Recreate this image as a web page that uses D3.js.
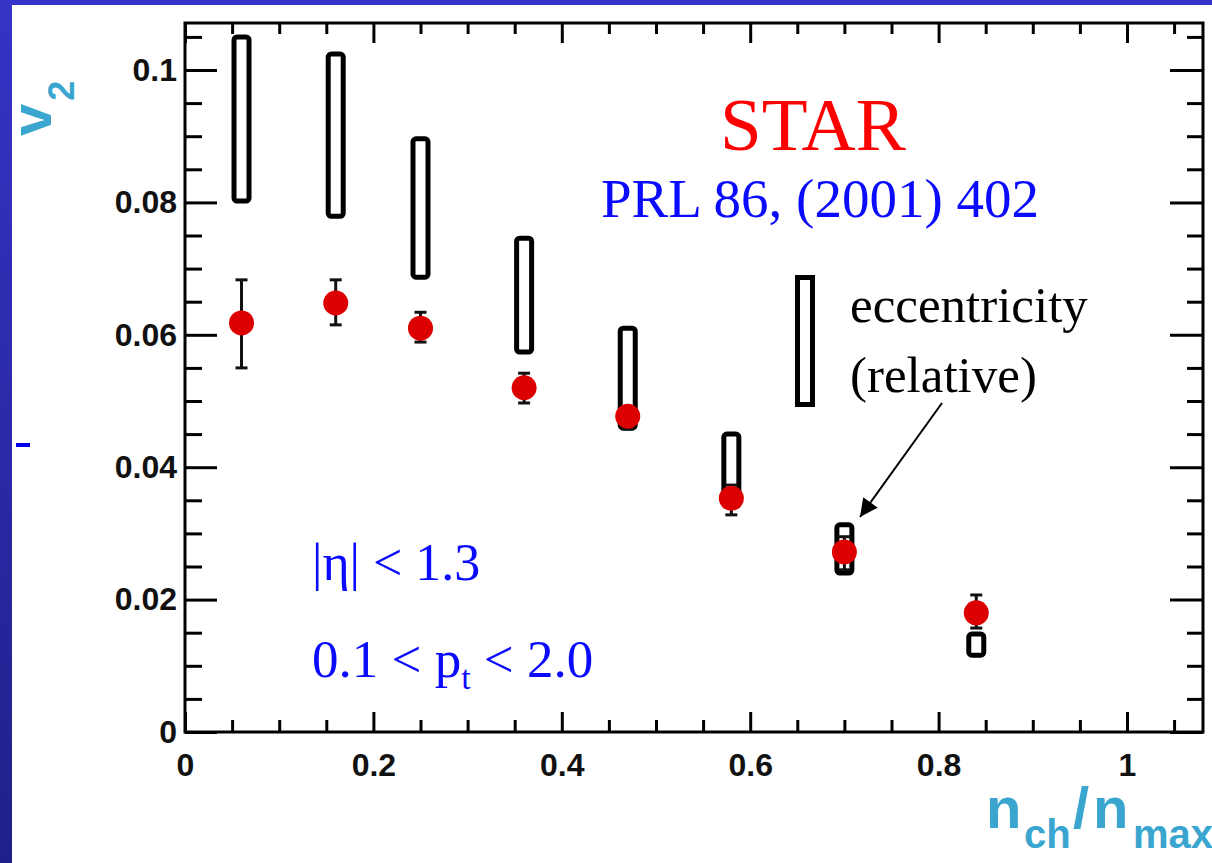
<!DOCTYPE html>
<html>
<head>
<meta charset="utf-8">
<script src="https://cdn.jsdelivr.net/npm/d3@7"></script>
<style>
  body { margin: 0; background: #fff; }
  svg { display: block; }
</style>
</head>
<body>
<svg width="1212" height="863"></svg>
<script>
// Data: v2 vs centrality (STAR, PRL 86 (2001) 402)
var nch = [0.06, 0.16, 0.25, 0.36, 0.47, 0.58, 0.70, 0.84];
var v2 = [0.0618, 0.0648, 0.0610, 0.0520, 0.0477, 0.0353, 0.0272, 0.0180];
var v2_hi = [0.0683, 0.0683, 0.0634, 0.0542, 0.0489, 0.0373, 0.0295, 0.0207];
var v2_lo = [0.0550, 0.0615, 0.0589, 0.0497, 0.0458, 0.0328, 0.0245, 0.0157];
// eccentricity (relative) boxes
var ecc_hi = [0.1050, 0.1024, 0.0896, 0.0746, 0.0610, 0.0450, 0.0313, 0.0148];
var ecc_lo = [0.0802, 0.0779, 0.0687, 0.0574, 0.0459, 0.0350, 0.0240, 0.0116];

var x_major = [0, 0.2, 0.4, 0.6, 0.8, 1];
var y_major = [0, 0.02, 0.04, 0.06, 0.08, 0.1];

var points = nch.map(function(d, i) {
  return {x: d, y: v2[i], hi: v2_hi[i], lo: v2_lo[i], ehi: ecc_hi[i], elo: ecc_lo[i]};
});

var svg = d3.select('svg');
var p_left = 185, p_right = 1203, p_top = 23, p_bottom = 732;

var x = d3.scaleLinear().domain([0, 1.0807]).range([p_left, p_right]);
var y = d3.scaleLinear().domain([0, 0.1071]).range([p_bottom, p_top]);

var x_minor = d3.range(0, 1.08, 0.05).filter(function(v) { return Math.abs(v * 5 - Math.round(v * 5)) > 1e-6; });
var y_minor = d3.range(0, 0.107, 0.005).filter(function(v) { return Math.abs(v * 50 - Math.round(v * 50)) > 1e-6; });

// background strips
var defs = svg.append('defs');
var grad = defs.append('linearGradient').attr('id', 'leftgrad')
  .attr('x1', 0).attr('y1', 0).attr('x2', 0).attr('y2', 1);
grad.append('stop').attr('offset', '0%').attr('stop-color', '#3434c6');
grad.append('stop').attr('offset', '100%').attr('stop-color', '#20208a');
svg.append('rect').attr('x', 0).attr('y', 0).attr('width', 1212).attr('height', 5).attr('fill', '#3434c8');
svg.append('rect').attr('x', 0).attr('y', 0).attr('width', 12).attr('height', 863).attr('fill', 'url(#leftgrad)');
svg.append('line').attr('x1', 16).attr('x2', 30).attr('y1', 445).attr('y2', 445)
  .attr('stroke', '#0000ee').attr('stroke-width', 4);

// axes
function style_axis(g) {
  g.select('.domain').remove();
  g.selectAll('line').attr('stroke', '#000').attr('stroke-width', 3);
  g.selectAll('text').attr('fill', '#111')
    .attr('font-family', 'Liberation Sans, Arial, sans-serif')
    .attr('font-weight', 'bold').attr('font-size', '32px');
}
var fmt = function(d) { return d === 0 ? '0' : String(+d.toFixed(2)); };

svg.append('g').attr('transform', 'translate(0,' + p_bottom + ')')
  .call(d3.axisBottom(x).tickValues(x_major).tickFormat(fmt).tickSizeInner(-20).tickSizeOuter(0).tickPadding(21))
  .call(style_axis);
svg.append('g').attr('transform', 'translate(0,' + p_bottom + ')')
  .call(d3.axisBottom(x).tickValues(x_minor).tickFormat('').tickSizeInner(-12).tickSizeOuter(0))
  .call(style_axis);
svg.append('g').attr('transform', 'translate(0,' + p_top + ')')
  .call(d3.axisTop(x).tickValues(x_major).tickFormat('').tickSizeInner(-20).tickSizeOuter(0))
  .call(style_axis);
svg.append('g').attr('transform', 'translate(0,' + p_top + ')')
  .call(d3.axisTop(x).tickValues(x_minor).tickFormat('').tickSizeInner(-11).tickSizeOuter(0))
  .call(style_axis);
svg.append('g').attr('transform', 'translate(' + p_left + ',0)')
  .call(d3.axisLeft(y).tickValues(y_major).tickFormat(fmt).tickSizeInner(-32).tickSizeOuter(0).tickPadding(8))
  .call(style_axis);
svg.append('g').attr('transform', 'translate(' + p_left + ',0)')
  .call(d3.axisLeft(y).tickValues(y_minor).tickFormat('').tickSizeInner(-17).tickSizeOuter(0))
  .call(style_axis);
svg.append('g').attr('transform', 'translate(' + p_right + ',0)')
  .call(d3.axisRight(y).tickValues(y_major).tickFormat('').tickSizeInner(-33).tickSizeOuter(0))
  .call(style_axis);
svg.append('g').attr('transform', 'translate(' + p_right + ',0)')
  .call(d3.axisRight(y).tickValues(y_minor).tickFormat('').tickSizeInner(-16).tickSizeOuter(0))
  .call(style_axis);

svg.append('rect').attr('x', p_left).attr('y', p_top)
  .attr('width', p_right - p_left).attr('height', p_bottom - p_top)
  .attr('fill', 'none').attr('stroke', '#000').attr('stroke-width', 3);

// axis titles
var cyan = '#3aa6cf';
var ytitle = svg.append('text').attr('transform', 'translate(51,136) rotate(-90)')
  .attr('fill', cyan).attr('font-family', 'Liberation Sans, Arial, sans-serif').attr('font-weight', 'bold');
ytitle.append('tspan').attr('font-size', '58px').text('v');
ytitle.append('tspan').attr('font-size', '36px').attr('dy', 23).attr('dx', 3).text('2');

var xtitle = svg.append('text').attr('y', 828)
  .attr('fill', cyan).attr('font-family', 'Liberation Sans, Arial, sans-serif').attr('font-weight', 'bold');
xtitle.append('tspan').attr('x', 986).attr('font-size', '58px').text('n');
xtitle.append('tspan').attr('x', 1024).attr('font-size', '40px').attr('dy', 20).text('ch');
xtitle.append('tspan').attr('x', 1073).attr('font-size', '58px').attr('dy', -20).text('/');
xtitle.append('tspan').attr('x', 1093).attr('font-size', '58px').text('n');
xtitle.append('tspan').attr('x', 1133).attr('font-size', '40px').attr('dy', 20).text('max');

// eccentricity boxes
svg.append('g').selectAll('rect').data(points).enter().append('rect')
  .attr('x', function(d) { return x(d.x) - 7.5; })
  .attr('y', function(d) { return y(d.ehi); })
  .attr('width', 15)
  .attr('height', function(d) { return y(d.elo) - y(d.ehi); })
  .attr('rx', 3)
  .attr('fill', 'none').attr('stroke', '#000').attr('stroke-width', 5);

// error bars
var eb = svg.append('g').selectAll('g').data(points).enter().append('g');
eb.append('line')
  .attr('x1', function(d) { return x(d.x); }).attr('x2', function(d) { return x(d.x); })
  .attr('y1', function(d) { return y(d.hi); }).attr('y2', function(d) { return y(d.lo); })
  .attr('stroke', '#111').attr('stroke-width', 3);
eb.selectAll('.cap').data(function(d) { return [{x: d.x, v: d.hi}, {x: d.x, v: d.lo}]; })
  .enter().append('line').attr('class', 'cap')
  .attr('x1', function(d) { return x(d.x) - 6; }).attr('x2', function(d) { return x(d.x) + 6; })
  .attr('y1', function(d) { return y(d.v); }).attr('y2', function(d) { return y(d.v); })
  .attr('stroke', '#111').attr('stroke-width', 3);

// v2 points
svg.append('g').selectAll('circle').data(points).enter().append('circle')
  .attr('cx', function(d) { return x(d.x); })
  .attr('cy', function(d) { return y(d.y); })
  .attr('r', 12.5)
  .attr('fill', '#dd0000');

// annotations
var serif = 'Liberation Serif, Times New Roman, serif';
svg.append('text').attr('x', 720).attr('y', 150).attr('font-family', serif)
  .attr('font-size', '75px').attr('fill', '#ff0000').text('STAR');
svg.append('text').attr('x', 601).attr('y', 217).attr('font-family', serif)
  .attr('font-size', '55px').attr('fill', '#0a0aff').text('PRL 86, (2001) 402');
svg.append('text').attr('x', 850).attr('y', 322).attr('font-family', serif)
  .attr('font-size', '51px').attr('fill', '#000').text('eccentricity');
svg.append('text').attr('x', 850).attr('y', 392).attr('font-family', serif)
  .attr('font-size', '51px').attr('fill', '#000').text('(relative)');

svg.append('rect').attr('x', 797.5).attr('y', 277.5).attr('width', 15).attr('height', 127)
  .attr('fill', 'none').attr('stroke', '#000').attr('stroke-width', 5);

defs.append('marker').attr('id', 'arrow').attr('markerUnits', 'userSpaceOnUse')
  .attr('viewBox', '0 0 10 10').attr('refX', 10).attr('refY', 5)
  .attr('markerWidth', 22).attr('markerHeight', 18).attr('orient', 'auto')
  .append('path').attr('d', 'M0,0 L10,5 L0,10 Z').attr('fill', '#000');
svg.append('line').attr('x1', 942).attr('y1', 403).attr('x2', 860).attr('y2', 517)
  .attr('stroke', '#000').attr('stroke-width', 2).attr('marker-end', 'url(#arrow)');

var cut1 = svg.append('text').attr('x', 312).attr('y', 580).attr('font-family', serif)
  .attr('font-size', '52px').attr('fill', '#0a0aff');
cut1.append('tspan').text('|\u03b7| < 1.3');
var cut2 = svg.append('text').attr('x', 312).attr('y', 677).attr('font-family', serif)
  .attr('font-size', '53px').attr('fill', '#0a0aff');
cut2.append('tspan').text('0.1 < p');
cut2.append('tspan').attr('font-size', '34px').attr('dy', 12).text('t');
cut2.append('tspan').attr('dy', -12).text(' < 2.0');
</script>
</body>
</html>
